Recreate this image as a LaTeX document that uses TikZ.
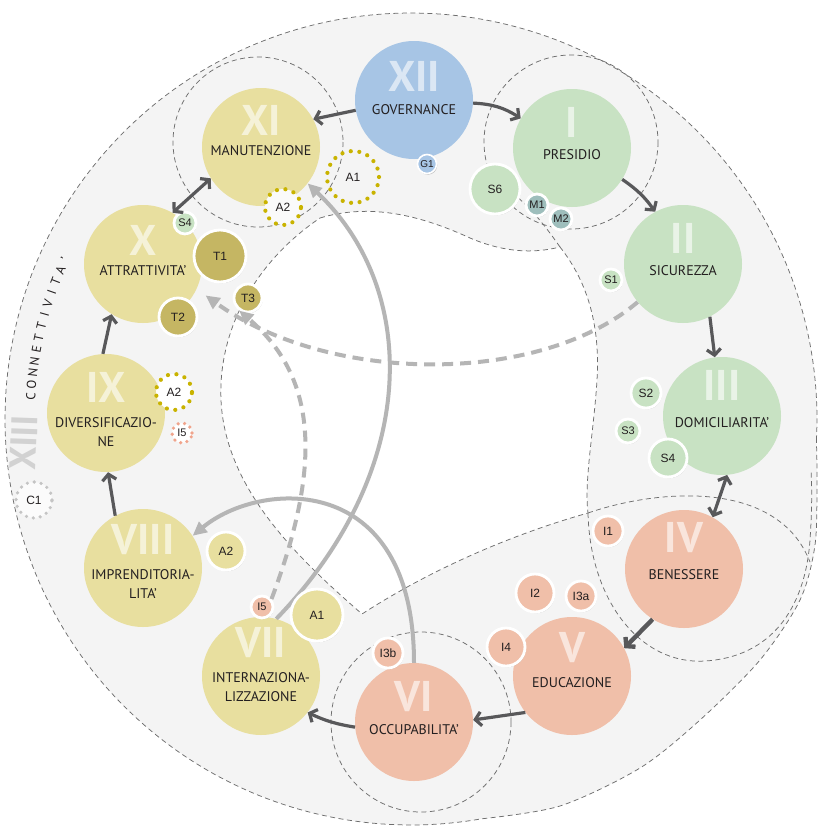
\documentclass[tikz,border=0pt]{standalone}
\usepackage{fontspec}
\setmainfont{PT Sans}
\newfontfamily\smallfont{Liberation Sans}
\usetikzlibrary{arrows.meta,shadows}
\definecolor{bg}{HTML}{F4F4F4}
\definecolor{dashc}{HTML}{6E6E6E}
\definecolor{blueC}{HTML}{A7C5E5}
\definecolor{greenC}{HTML}{C8E2C3}
\definecolor{tealC}{HTML}{9EBEBC}
\definecolor{yelC}{HTML}{E8DF9F}
\definecolor{oliveC}{HTML}{C5B663}
\definecolor{salC}{HTML}{F0BFA9}
\definecolor{darkA}{HTML}{58585A}
\definecolor{lightA}{HTML}{B5B5B5}
\definecolor{dotY}{HTML}{C9B300}
\definecolor{dotS}{HTML}{F0A48C}
\definecolor{dotG}{HTML}{C4C4C4}
\definecolor{txt}{HTML}{231F20}
\definecolor{xiiiC}{HTML}{D2D2D2}
\tikzset{
  bigc/.style={circle, inner sep=0pt, minimum size=118pt, fill=#1},
  numl/.style={font=\fontsize{43}{43}\selectfont\bfseries, text=white, text opacity=0.6, inner sep=0pt},
  labl/.style={font=\fontsize{14}{19}\selectfont, text=txt, align=center, inner sep=0pt},
  smc/.style={circle, inner sep=0pt, minimum size=#1, draw=white, line width=2.8pt, text=txt,
    font=\smallfont\fontsize{12}{12}\selectfont,
    drop shadow={shadow xshift=0.8pt, shadow yshift=-1.2pt, opacity=0.22, fill=black}},
  dotc/.style={circle, inner sep=0pt, minimum size=#1, line width=4.2pt, dash pattern=on 0pt off 8.6pt,
    line cap=round, text=txt, font=\smallfont\fontsize{12}{12}\selectfont},
  grp/.style={draw=dashc, line width=0.75pt, dash pattern=on 5pt off 3.5pt},
  darr/.style={draw=darkA, line width=3.2pt, -{Straight Barb[length=6pt,width=14pt]}},
  dbl/.style={draw=darkA, line width=3.2pt, {Straight Barb[length=6pt,width=14pt]}-{Straight Barb[length=6pt,width=14pt]}},
  larr/.style={draw=lightA, line width=4pt, -{Triangle[length=14pt,width=13pt]}},
  ldsh/.style={larr, dash pattern=on 11pt off 7pt},
  conn/.style={font=\fontsize{13}{13}\selectfont, text=txt, inner sep=0pt},
}
\begin{document}
\begin{tikzpicture}[x=1pt,y=-1pt]
\useasboundingbox (0,0) rectangle (819,827);
% background ring (circle with a bulge at bottom right)
\path[fill=bg, grp] plot[domain=-3:280, samples=240] ({411+406*cos(\x)},{419-406*sin(\x)})
  -- plot[smooth] coordinates {(481.5,818.8) (560,806) (640,768) (700,720) (760,660) (800,600) (815,545) (817,480) (816.4,440.2)} -- cycle;
% central white blob
\draw[grp, fill=white] (320,218) .. controls (370,203) and (420,215) .. (470,238)
  .. controls (510,255) and (540,252) .. (560,247)
  .. controls (590,285) and (600,330) .. (597,380)
  .. controls (594,430) and (584,480) .. (588,513)
  .. controls (510,535) and (430,570) .. (362,614)
  .. controls (300,560) and (225,490) .. (221,400)
  .. controls (218,330) and (255,262) .. (320,218) -- cycle;
% group outlines
\draw[grp] (258,142) circle[radius=85];
\draw[grp] (571,142) circle[radius=87];
\draw[grp] (421,722) circle[radius=90];
\draw[grp] (560,247) .. controls (548,230) and (535,212) .. (515,195);
\draw[grp] (588,513) .. controls (590,600) and (640,665) .. (705,661)
  .. controls (770,657) and (805,610) .. (810,540) .. controls (812,510) and (812,490) .. (811,470);
\draw[grp] (588,513) .. controls (640,495) and (720,485) .. (770,515)
  .. controls (790,527) and (802,542) .. (810,562);
% big circles
\node[bigc=blueC] (n12) at (414,100) {};
\node[bigc=greenC] (n1) at (572,148) {};
\node[bigc=greenC] (n2) at (683,264) {};
\node[bigc=greenC] (n3) at (722,416) {};
\node[bigc=salC] (n4) at (684,569) {};
\node[bigc=salC] (n5) at (572,676) {};
\node[bigc=salC] (n6) at (414,722) {};
\node[bigc=yelC] (n7) at (261,676) {};
\node[bigc=yelC] (n8) at (143,568) {};
\node[bigc=yelC] (n9) at (106,413) {};
\node[bigc=yelC] (n10) at (143,264) {};
\node[bigc=yelC] (n11) at (261,147) {};
% light grey connectors
\draw[larr] (n7.75) .. controls (420,470) and (420,290) .. (n11.322);
\draw[larr] (n6.90) .. controls (414,470) and (260,480) .. (n8.33);
% numerals and labels
\node[numl] (n12n) at (414,76) {XII};
\node[labl] (n12l) at (414,110) {GOVERNANCE};
\node[numl] (n1n) at (572,122) {I};
\node[labl] (n1l) at (572,155) {PRESIDIO};
\node[numl] (n2n) at (683,238) {II};
\node[labl] (n2l) at (683,271) {SICUREZZA};
\node[numl] (n3n) at (722,385) {III};
\node[labl] (n3l) at (722,423) {DOMICILIARITA’};
\node[numl] (n4n) at (684,538) {IV};
\node[labl] (n4l) at (684,575) {BENESSERE};
\node[numl] (n5n) at (572,648) {V};
\node[labl] (n5l) at (572,683) {EDUCAZIONE};
\node[numl] (n6n) at (414,697) {VI};
\node[labl] (n6l) at (414,730) {OCCUPABILITA’};
\node[numl] (n7n) at (261,643) {VII};
\node[labl] (n7l) at (261,687) {INTERNAZIONA-\\LIZZAZIONE};
\node[numl] (n8n) at (143,540) {VIII};
\node[labl] (n8l) at (143,584) {IMPRENDITORIA-\\LITA’};
\node[numl] (n9n) at (106,387) {IX};
\node[labl] (n9l) at (106,432) {DIVERSIFICAZIO-\\NE};
\node[numl] (n10n) at (143,240) {X};
\node[labl] (n10l) at (143,271) {ATTRATTIVITA’};
\node[numl] (n11n) at (261,120) {XI};
\node[labl] (n11l) at (261,151) {MANUTENZIONE};
% small circles
\node[smc=19pt, fill=blueC, line width=1.6pt, font=\smallfont\fontsize{10}{10}\selectfont] (g1) at (427,164) {G1};
\node[smc=50pt, fill=greenC] (s6) at (495,189) {S6};
\node[smc=22pt, fill=tealC, font=\smallfont\fontsize{11}{11}\selectfont] (m1) at (537,205) {M1};
\node[smc=22pt, fill=tealC, font=\smallfont\fontsize{11}{11}\selectfont] (m2) at (561,219) {M2};
\node[smc=22pt, fill=greenC, font=\smallfont\fontsize{11}{11}\selectfont] (s1) at (611,280) {S1};
\node[smc=30pt, fill=greenC] (s2) at (646,393) {S2};
\node[smc=24pt, fill=greenC, font=\smallfont\fontsize{11}{11}\selectfont] (s3) at (628,431) {S3};
\node[smc=38pt, fill=greenC] (s4b) at (668,458) {S4};
\node[smc=30pt, fill=salC] (i1) at (608,531) {I1};
\node[smc=38pt, fill=salC] (i2) at (535,593) {I2};
\node[smc=30pt, fill=salC] (i3a) at (581,596) {I3a};
\node[smc=38pt, fill=salC] (i4) at (506,647) {I4};
\node[smc=30pt, fill=salC] (i3b) at (388,653) {I3b};
\node[smc=22pt, fill=salC, font=\smallfont\fontsize{11}{11}\selectfont] (i5b) at (262,607) {I5};
\node[smc=52pt, fill=yelC] (a1b) at (317,615) {A1};
\node[smc=38pt, fill=yelC] (a2c) at (226,551) {A2};
\node[smc=52pt, fill=oliveC] (t1) at (220,256) {T1};
\node[smc=38pt, fill=oliveC] (t2) at (178,317) {T2};
\node[smc=28pt, fill=oliveC] (t3) at (248,298) {T3};
\node[smc=22pt, fill=greenC, font=\smallfont\fontsize{11}{11}\selectfont] (s4a) at (185,223) {S4};
% dotted circles
\node[dotc=52pt, draw=dotY] (a1a) at (353,177) {A1};
\node[dotc=36pt, draw=dotY, fill=white!55!bg] (a2a) at (283,207) {A2};
\node[dotc=36pt, draw=dotY, fill=white] (a2d) at (174,392) {A2};
\node[dotc=20pt, draw=dotS, fill=white, line width=3.6pt, dash pattern=on 0pt off 6.5pt, font=\smallfont\fontsize{11}{11}\selectfont] (i5d) at (182,433) {I5};
\node[dotc=36pt, draw=dotG, fill=white!60!bg, line width=3.6pt, dash pattern=on 0pt off 7pt] (c1) at (34,500) {C1};
% dashed light grey connectors
\draw[ldsh] (i5b.40) .. controls (320,470) and (320,380) .. (t3.235);
\draw[ldsh, shorten >=11pt] (n2.220) .. controls (540,385) and (330,385) .. (n10.-25);
% dark connectors
\draw[darr] (n12.190) -- (n11.28);
\draw[darr] (n12.357) to[bend left=15] (n1.150);
\draw[darr] (n1.328) to[bend left=10] (n2.118);
\draw[darr] (n2.297) -- (n3.97);
\draw[dbl] (n3.275) -- (n4.61);
\draw[darr, line width=4.4pt] (n4.238) -- (n5.28);
\draw[darr] (n5.218) -- (n6.2);
\draw[darr] (n6.185) to[bend left=8] (n7.322);
\draw[darr] (n8.118) -- (n9.272);
\draw[darr] (n9.93) -- (n10.238);
\draw[dbl] (n10.60) -- (n11.212);
% XIII and CONNETTIVITA'
\node[font=\fontsize{37}{37}\selectfont\bfseries, text=xiiiC, rotate=88, inner sep=0pt] (xiii) at (24,443) {XIII};
\foreach \ch [count=\k] in {C,O,N,N,E,T,T,I,V,I,T,A,’} {
  \pgfmathsetmacro\ang{176.6-(\k-1)*1.78}
  \node[conn, rotate=\ang-90] (cn\k) at ({411+381*cos(\ang)},{419-381*sin(\ang)}) {\ch};
}
\end{tikzpicture}
\end{document}
